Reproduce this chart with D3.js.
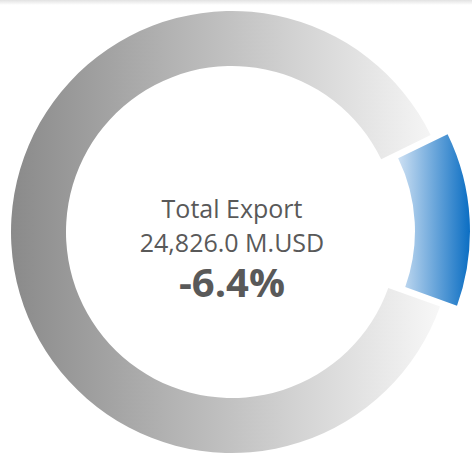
<!DOCTYPE html>
<html>
<head>
<meta charset="utf-8">
<script src="https://cdn.jsdelivr.net/npm/d3@7"></script>
<style>
  html, body { margin: 0; padding: 0; background: #fff; }
  svg { display: block; }
  .label { font-family: "Open Sans", "Noto Sans", sans-serif; fill: #595959; }
</style>
</head>
<body>
<div id="chart"></div>
<script>
// slice shares (percent of total export)
var categories = ["Highlighted", "Rest"];
var shares = [12.7, 87.3];
var exploded = [true, false];

// centre labels
var titleText = "Total Export";
var totalText = "24,826.0 M.USD";
var changeText = "-6.4%";

var width = 472;
var height = 455;
var cx = 232, cy = 232;
var outerR = 221, innerR = 166;
var pullOut = 17;

var svg = d3.select("#chart").append("svg")
    .attr("width", width)
    .attr("height", height);

var defs = svg.append("defs");

var grayGrad = defs.append("linearGradient")
    .attr("id", "grayGrad")
    .attr("x1", "0%").attr("x2", "100%").attr("y1", "0%").attr("y2", "0%");
grayGrad.append("stop").attr("offset", "0%").attr("stop-color", "#8a8a8a");
grayGrad.append("stop").attr("offset", "100%").attr("stop-color", "#f7f7f7");

var blueGrad = defs.append("linearGradient")
    .attr("id", "blueGrad")
    .attr("x1", "0%").attr("x2", "100%").attr("y1", "0%").attr("y2", "0%");
blueGrad.append("stop").attr("offset", "0%").attr("stop-color", "#cde0f3");
blueGrad.append("stop").attr("offset", "100%").attr("stop-color", "#0b6ec3");

var shadowGrad = defs.append("linearGradient")
    .attr("id", "shadowGrad")
    .attr("x1", "0%").attr("x2", "0%").attr("y1", "0%").attr("y2", "100%");
shadowGrad.append("stop").attr("offset", "0%").attr("stop-color", "#e2e2e2");
shadowGrad.append("stop").attr("offset", "100%").attr("stop-color", "#ffffff");

// thin shadow under the header
svg.append("rect")
    .attr("x", 0).attr("y", 0)
    .attr("width", width).attr("height", 5)
    .attr("fill", "url(#shadowGrad)");

var startAngle = 64 * Math.PI / 180;

var pie = d3.pie()
    .sort(null)
    .startAngle(startAngle)
    .endAngle(startAngle + 2 * Math.PI);

var arc = d3.arc()
    .innerRadius(innerR)
    .outerRadius(outerR);

var fills = ["url(#blueGrad)", "url(#grayGrad)"];

var g = svg.append("g")
    .attr("transform", "translate(" + cx + "," + cy + ")");

g.selectAll(".slice")
    .data(pie(shares))
    .enter().append("path")
    .attr("class", "slice")
    .attr("d", arc)
    .attr("fill", function(d, i) { return fills[i]; })
    .attr("transform", function(d, i) {
        if (!exploded[i]) return null;
        var mid = (d.startAngle + d.endAngle) / 2;
        return "translate(" + (pullOut * Math.sin(mid)) + "," + (-pullOut * Math.cos(mid)) + ")";
    });

//centre text
g.append("text")
    .attr("class", "label")
    .attr("x", 0).attr("y", -14)
    .attr("text-anchor", "middle")
    .style("font-size", "25px")
    .text(titleText);

g.append("text")
    .attr("class", "label")
    .attr("x", 0).attr("y", 20)
    .attr("text-anchor", "middle")
    .style("font-size", "25px")
    .text(totalText);

g.append("text")
    .attr("class", "label")
    .attr("x", 0).attr("y", 65)
    .attr("text-anchor", "middle")
    .style("font-size", "40px")
    .style("font-weight", "bold")
    .text(changeText);
</script>
</body>
</html>
